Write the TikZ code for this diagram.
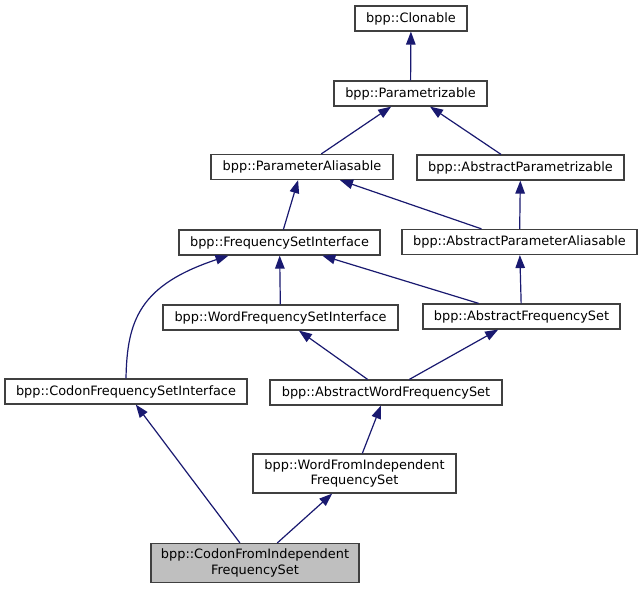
\documentclass[tikz,border=0pt]{standalone}
\usepackage{fontspec}
\setmainfont{DejaVu Sans}
\usetikzlibrary{arrows.meta}
\definecolor{edgeblue}{HTML}{191970}
\definecolor{boxline}{HTML}{404040}
\definecolor{curfill}{HTML}{BFBFBF}
\begin{document}
\begin{tikzpicture}[x=1bp,y=-1bp,
  cls/.style={draw=boxline, line width=1.2bp, fill=white, inner sep=0pt,
    minimum height=25bp, align=center,
    font=\fontsize{12.9bp}{15.5bp}\selectfont},
  cls2/.style={cls, minimum height=39bp},
  cur/.style={cls2, fill=curfill},
  inh/.style={draw=edgeblue, line width=1.2bp, -{Triangle[length=13bp,width=9.5bp]}}
]
\useasboundingbox (0,0) rectangle (644,589);
\fill[white] (0,0) rectangle (644,589);

\node[cls, minimum width=112bp] (clon) at (411,18.5) {bpp::Clonable};
\node[cls, minimum width=153bp] (param) at (410.5,93.5) {bpp::Parametrizable};
\node[cls, minimum width=182bp] (pa) at (302,167) {bpp::ParameterAliasable};
\node[cls, minimum width=207bp] (ap) at (520.5,167.5) {bpp::AbstractParametrizable};
\node[cls, minimum width=201bp] (fsi) at (279.5,242.5) {bpp::FrequencySetInterface};
\node[cls, minimum width=235bp] (apa) at (519.5,242) {bpp::AbstractParameterAliasable};
\node[cls, minimum width=235bp] (wfsi) at (280.5,317.5) {bpp::WordFrequencySetInterface};
\node[cls, minimum width=197bp] (afs) at (521.5,316.5) {bpp::AbstractFrequencySet};
\node[cls, minimum width=242bp] (cfsi) at (126,391.5) {bpp::CodonFrequencySetInterface};
\node[cls, minimum width=232bp] (awfs) at (386,392.5) {bpp::AbstractWordFrequencySet};
\node[cls2, minimum width=203bp] (wfi) at (354.5,473.5) {bpp::WordFromIndependent\\FrequencySet};
\node[cur, minimum width=208bp] (cfi) at (255,563) {bpp::CodonFromIndependent\\FrequencySet};

\draw[inh] (param) -- (clon);
\draw[inh] (pa) -- (param);
\draw[inh] (ap) -- (param);
\draw[inh] (fsi) -- (pa);
\draw[inh] (apa) -- (pa);
\draw[inh] (apa) -- (ap);
\draw[inh] (wfsi) -- (fsi);
\draw[inh] (afs) -- (fsi);
\draw[inh] (afs) -- (apa);
\draw[inh] (cfsi.north) .. controls (127,320) and (140,285) .. ([xshift=-51bp]fsi.south);
\draw[inh] (awfs) -- (wfsi);
\draw[inh] (awfs) -- (afs);
\draw[inh] (wfi) -- (awfs);
\draw[inh] (cfi) -- (wfi);
\draw[inh] (cfi) -- (cfsi);
\end{tikzpicture}
\end{document}
